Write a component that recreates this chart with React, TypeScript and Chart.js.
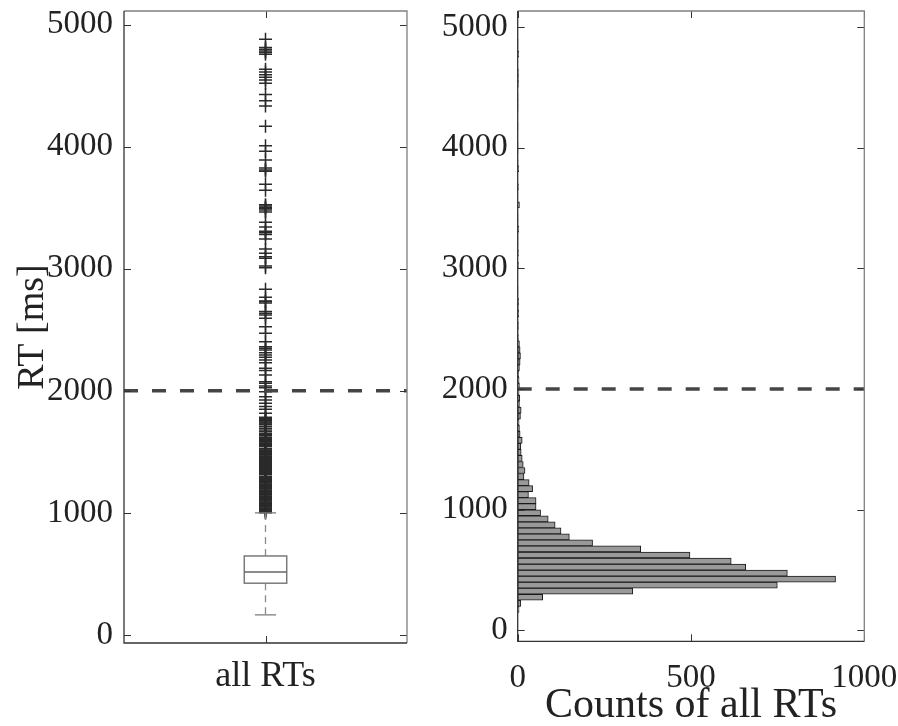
import React, { useEffect, useRef } from 'react';
import { Chart, registerables } from 'chart.js';

Chart.register(...registerables);

// ---------------- data ----------------
const RT_TICKS = [0, 1000, 2000, 3000, 4000, 5000];
const COUNT_TICKS = [0, 500, 1000];
const BOX_LABEL = 'all RTs';
const Y_TITLE = 'RT [ms]';
const X_TITLE_RIGHT = 'Counts of all RTs';
const THRESHOLD_RT = 2000;

// lower whisker, Q1, median, Q3, upper whisker
const BOX_FIVE_NUMBERS = [164, 424, 516, 647, 1000];

const OUTLIERS = [
  4880, 4812, 4798, 4784, 4771, 4757, 4634, 4612, 4590, 4569, 4547, 4520,
  4427, 4377, 4334, 4168, 4009, 3963, 3892, 3826, 3810, 3799, 3692, 3643,
  3525, 3514, 3503, 3493, 3482, 3465, 3381, 3343, 3307, 3296, 3280, 3244,
  3162, 3127, 3099, 3086, 3023, 3009, 2832, 2767, 2736, 2731, 2720, 2649,
  2635, 2622, 2594, 2526, 2472, 2403, 2362, 2349, 2335, 2313, 2294, 2275,
  2253, 2231, 2185, 2166, 2130, 2075, 2062, 2040, 2026, 1993, 1952, 1925,
  1898, 1871, 1849, 1816, 1784, 1775, 1768, 1760, 1752, 1745, 1737, 1729,
  1722, 1707, 1693, 1680, 1666, 1652, 1644, 1637, 1630, 1615, 1608, 1601,
  1594, 1587, 1580, 1573, 1566, 1559, 1552, 1545, 1530, 1523, 1516, 1509,
  1502, 1495, 1488, 1481, 1474, 1467, 1460, 1453, 1446, 1439, 1432, 1425,
  1418, 1411, 1404, 1397, 1390, 1383, 1370, 1363, 1356, 1349, 1342, 1335,
  1328, 1321, 1314, 1300, 1293, 1286, 1279, 1272, 1265, 1258, 1251, 1244,
  1237, 1230, 1223, 1216, 1209, 1202, 1195, 1188, 1181, 1174, 1167, 1160,
  1153, 1146, 1139, 1132, 1125, 1118, 1111, 1104, 1097, 1090, 1083, 1076,
  1069, 1062, 1055, 1048, 1041, 1034, 1027, 1020, 1013, 1006, 1001,
];

const HIST_BIN_WIDTH = 50;
// counts for bins 0-50, 50-100, ..., 4950-5000
const HIST_COUNTS = [
  0, 0, 0, 4, 9, 72, 332, 749, 917, 778,
  658, 616, 497, 355, 216, 149, 125, 108, 88, 66,
  53, 53, 31, 43, 33, 18, 21, 16, 13, 10,
  9, 13, 7, 5, 4, 8, 10, 5, 6, 4,
  5, 4, 3, 5, 7, 8, 7, 5, 2, 1,
  2, 1, 3, 2, 3, 1, 1, 0, 0, 0,
  2, 0, 2, 1, 1, 1, 3, 1, 1, 0,
  5, 0, 0, 2, 0, 0, 3, 1, 0, 1,
  1, 0, 0, 1, 0, 0, 1, 1, 1, 0,
  2, 2, 2, 0, 0, 3, 1, 1, 0, 0,
];

// ---------------- style ----------------
const FONT_FAMILY = "'Liberation Serif', 'Times New Roman', serif";
const TEXT_COLOR = '#222222';
const TICK_FONT = { family: FONT_FAMILY, size: 33, lineHeight: 1.2 };
const BOX_LABEL_FONT = { family: FONT_FAMILY, size: 36, lineHeight: 1.2 };
const Y_TITLE_FONT = { family: FONT_FAMILY, size: 38, lineHeight: 1 };
const X_TITLE_FONT = { family: FONT_FAMILY, size: 42, lineHeight: 1 };
const W = 898;
const H = 726;

function noPad(s: any) {
  s.paddingTop = 0;
  s.paddingBottom = 0;
  s.paddingLeft = 0;
  s.paddingRight = 0;
}

function drawFrame(chart: any, xTicks: number[], yTicks: number[]) {
  const { ctx, chartArea: a, scales } = chart;
  const tl = 7;
  ctx.save();
  ctx.lineWidth = 1;
  ctx.strokeStyle = '#333333';
  ctx.setLineDash([]);
  ctx.beginPath();
  yTicks.forEach((v) => {
    const y = Math.round(scales.y.getPixelForValue(v)) + 0.5;
    ctx.moveTo(a.left, y);
    ctx.lineTo(a.left + tl, y);
    ctx.moveTo(a.right, y);
    ctx.lineTo(a.right - tl, y);
  });
  xTicks.forEach((v) => {
    const x = Math.round(scales.x.getPixelForValue(v)) + 0.5;
    ctx.moveTo(x, a.bottom);
    ctx.lineTo(x, a.bottom - tl);
    ctx.moveTo(x, a.top);
    ctx.lineTo(x, a.top + tl);
  });
  ctx.stroke();
  ctx.lineWidth = 1.3;
  ctx.strokeStyle = '#808080';
  ctx.beginPath();
  ctx.moveTo(a.left, a.top);
  ctx.lineTo(a.right, a.top);
  ctx.lineTo(a.right, a.bottom);
  ctx.stroke();
  ctx.strokeStyle = '#333333';
  ctx.beginPath();
  ctx.moveTo(a.left, a.top);
  ctx.lineTo(a.left, a.bottom);
  ctx.lineTo(a.right, a.bottom);
  ctx.stroke();
  ctx.restore();
}

function drawThreshold(chart: any) {
  const { ctx, chartArea: a, scales } = chart;
  const y = scales.y.getPixelForValue(THRESHOLD_RT);
  ctx.save();
  ctx.strokeStyle = '#454545';
  ctx.lineWidth = 3.5;
  ctx.setLineDash([14, 14]);
  ctx.beginPath();
  ctx.moveTo(a.left, y);
  ctx.lineTo(a.right, y);
  ctx.stroke();
  ctx.restore();
}

const boxPlugin = {
  id: 'boxPlot',
  afterDatasetsDraw(chart: any) {
    const { ctx, scales } = chart;
    const [lw, q1, med, q3, uw] = BOX_FIVE_NUMBERS;
    const xc = scales.x.getPixelForValue(1);
    const halfBox = Math.abs(scales.x.getPixelForValue(1.15) - xc);
    const halfCap = Math.abs(scales.x.getPixelForValue(1.075) - xc);
    const py = (v: number) => scales.y.getPixelForValue(v);
    ctx.save();
    ctx.strokeStyle = '#8a8a8a';
    ctx.lineWidth = 1.3;
    ctx.setLineDash([7, 5]);
    ctx.beginPath();
    ctx.moveTo(xc, py(q3));
    ctx.lineTo(xc, py(uw));
    ctx.moveTo(xc, py(q1));
    ctx.lineTo(xc, py(lw));
    ctx.stroke();
    ctx.setLineDash([]);
    ctx.strokeStyle = '#7a7a7a';
    ctx.beginPath();
    ctx.moveTo(xc - halfCap, py(uw));
    ctx.lineTo(xc + halfCap, py(uw));
    ctx.moveTo(xc - halfCap, py(lw));
    ctx.lineTo(xc + halfCap, py(lw));
    ctx.stroke();
    ctx.lineWidth = 1.5;
    ctx.strokeRect(xc - halfBox, py(q3), 2 * halfBox, py(q1) - py(q3));
    ctx.strokeStyle = '#666666';
    ctx.beginPath();
    ctx.moveTo(xc - halfBox, py(med));
    ctx.lineTo(xc + halfBox, py(med));
    ctx.stroke();
    ctx.restore();
    drawThreshold(chart);
    drawFrame(chart, [1], RT_TICKS);
  },
};

const histPlugin = {
  id: 'histFrame',
  afterDatasetsDraw(chart: any) {
    drawThreshold(chart);
    drawFrame(chart, COUNT_TICKS, RT_TICKS);
  },
};

export default function App() {
  const leftRef = useRef<HTMLCanvasElement>(null);
  const rightRef = useRef<HTMLCanvasElement>(null);

  useEffect(() => {
    document.body.style.margin = '0';
    const left = new Chart(leftRef.current as HTMLCanvasElement, {
      type: 'scatter',
      data: {
        datasets: [
          {
            data: OUTLIERS.map((v) => ({ x: 1, y: v })),
            pointStyle: 'cross',
            pointRadius: 6.5,
            borderColor: '#2a2a2a',
            backgroundColor: '#2a2a2a',
            borderWidth: 1.5,
          } as any,
        ],
      },
      options: {
        responsive: false,
        animation: false,
        events: [],
        layout: { padding: { left: 0, top: 11, right: W - 407, bottom: 0 } },
        plugins: { legend: { display: false }, tooltip: { enabled: false } },
        scales: {
          x: {
            type: 'linear',
            min: 0,
            max: 2,
            afterBuildTicks: (s: any) => {
              s.ticks = [{ value: 1 }];
            },
            afterFit: (s: any) => {
              s.height = H - 643;
              noPad(s);
            },
            ticks: {
              callback: () => BOX_LABEL,
              font: BOX_LABEL_FONT,
              color: TEXT_COLOR,
              padding: 12,
              maxRotation: 0,
              autoSkip: false,
            },
            grid: { display: false, drawTicks: false },
            border: { display: false },
          },
          y: {
            type: 'linear',
            min: -66,
            max: 5112,
            afterBuildTicks: (s: any) => {
              s.ticks = RT_TICKS.map((v) => ({ value: v }));
            },
            afterFit: (s: any) => {
              s.width = 124;
              noPad(s);
            },
            ticks: {
              callback: (v: any) => String(v),
              font: TICK_FONT,
              color: TEXT_COLOR,
              padding: 11,
              autoSkip: false,
            },
            title: {
              display: true,
              text: Y_TITLE,
              font: Y_TITLE_FONT,
              color: TEXT_COLOR,
              padding: { top: 14, bottom: 0 },
            },
            grid: { display: false, drawTicks: false },
            border: { display: false },
          },
        },
      } as any,
      plugins: [boxPlugin],
    });

    const right = new Chart(rightRef.current as HTMLCanvasElement, {
      type: 'bar',
      data: {
        datasets: [
          {
            data: HIST_COUNTS.map((c, i) => ({ x: c, y: i * HIST_BIN_WIDTH + HIST_BIN_WIDTH / 2 })),
            backgroundColor: '#999999',
            borderColor: '#1a1a1a',
            borderWidth: 1,
            borderSkipped: false,
            barPercentage: 1,
            categoryPercentage: 1,
          } as any,
        ],
      },
      options: {
        indexAxis: 'y',
        responsive: false,
        animation: false,
        events: [],
        layout: { padding: { left: 400, top: 11, right: W - 864.3, bottom: 0 } },
        plugins: { legend: { display: false }, tooltip: { enabled: false } },
        scales: {
          x: {
            type: 'linear',
            min: 0,
            max: 1000,
            afterBuildTicks: (s: any) => {
              s.ticks = COUNT_TICKS.map((v) => ({ value: v }));
            },
            afterFit: (s: any) => {
              s.height = H - 641.3;
              noPad(s);
            },
            ticks: {
              callback: (v: any) => String(v),
              font: TICK_FONT,
              color: TEXT_COLOR,
              padding: 17,
              maxRotation: 0,
              autoSkip: false,
            },
            title: {
              display: true,
              text: X_TITLE_RIGHT,
              font: X_TITLE_FONT,
              color: TEXT_COLOR,
              padding: { top: 0, bottom: -1 },
            },
            grid: { display: false, drawTicks: false },
            border: { display: false },
          },
          y: {
            type: 'linear',
            min: -90,
            max: 5132,
            offset: false,
            afterBuildTicks: (s: any) => {
              s.ticks = RT_TICKS.map((v) => ({ value: v }));
            },
            afterFit: (s: any) => {
              s.width = 117.7;
              noPad(s);
            },
            ticks: {
              callback: (v: any) => String(v),
              font: TICK_FONT,
              color: TEXT_COLOR,
              padding: 10,
              autoSkip: false,
            },
            grid: { display: false, drawTicks: false, offset: false },
            border: { display: false },
          },
        },
      } as any,
      plugins: [histPlugin],
    });

    return () => {
      left.destroy();
      right.destroy();
    };
  }, []);

  return (
    <div style={{ position: 'relative', width: W, height: H, background: '#ffffff' }}>
      <canvas ref={leftRef} width={W} height={H} style={{ position: 'absolute', left: 0, top: 0 }} />
      <canvas ref={rightRef} width={W} height={H} style={{ position: 'absolute', left: 0, top: 0 }} />
    </div>
  );
}
